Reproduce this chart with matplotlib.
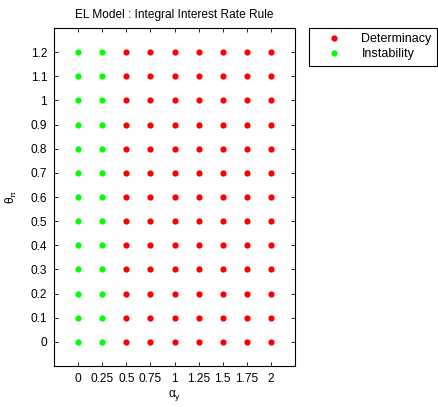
import numpy as np
import matplotlib.pyplot as plt

alpha_y = [0, 0.25, 0.5, 0.75, 1, 1.25, 1.5, 1.75, 2]
theta_pi = [0, 0.1, 0.2, 0.3, 0.4, 0.5, 0.6, 0.7, 0.8, 0.9, 1.0, 1.1, 1.2]
instability_alpha = [0, 0.25]
determinacy_alpha = [0.5, 0.75, 1, 1.25, 1.5, 1.75, 2]
x_labels = ['0', '0.25', '0.5', '0.75', '1', '1.25', '1.5', '1.75', '2']
y_labels = ['0', '0.1', '0.2', '0.3', '0.4', '0.5', '0.6', '0.7', '0.8', '0.9', '1', '1.1', '1.2']

plt.rcParams['font.family'] = ['Liberation Sans', 'DejaVu Sans']
plt.rcParams['font.size'] = 8.6
plt.rcParams['mathtext.default'] = 'regular'

fig = plt.figure(figsize=(4.38, 4.07), dpi=100)
ax = fig.add_axes([54 / 438, 1 - 366 / 407, (295 - 54) / 438, (366 - 28) / 407])

dx, dy = np.meshgrid(determinacy_alpha, theta_pi)
ix, iy = np.meshgrid(instability_alpha, theta_pi)
ax.plot(dx.ravel(), dy.ravel(), 'o', color=(1, 0, 0), ms=4.5, mec='none', label='Determinacy')
ax.plot(ix.ravel(), iy.ravel(), 'o', color=(0, 1, 0), ms=4.5, mec='none', label='Instability')

ax.set_xlim(-0.25, 2.25)
ax.set_ylim(-0.1, 1.3)
ax.set_xticks(alpha_y)
ax.set_xticklabels(x_labels)
ax.set_yticks(theta_pi)
ax.set_yticklabels(y_labels)
ax.tick_params(direction='in', length=3, top=True, right=True, width=0.6, pad=5)
for s in ax.spines.values():
    s.set_linewidth(0.8)

ax.set_xlabel(r'$\alpha_y$', fontsize=8.6, labelpad=2)
ax.set_ylabel(r'$\theta_\pi$', fontsize=8.6, labelpad=8)
ax.set_title('EL Model : Integral Interest Rate Rule', fontsize=8.6, pad=7)

leg = ax.legend(loc='upper left', bbox_to_anchor=(309 / 438, 1 - 28 / 407),
                bbox_transform=fig.transFigure, fancybox=False, edgecolor='black',
                framealpha=1, borderaxespad=0, handletextpad=0.6, borderpad=0.4,
                labelspacing=0.28, handlelength=3.2, fontsize=9)
leg.get_frame().set_linewidth(0.8)

fig.savefig('out.png', dpi=100)
